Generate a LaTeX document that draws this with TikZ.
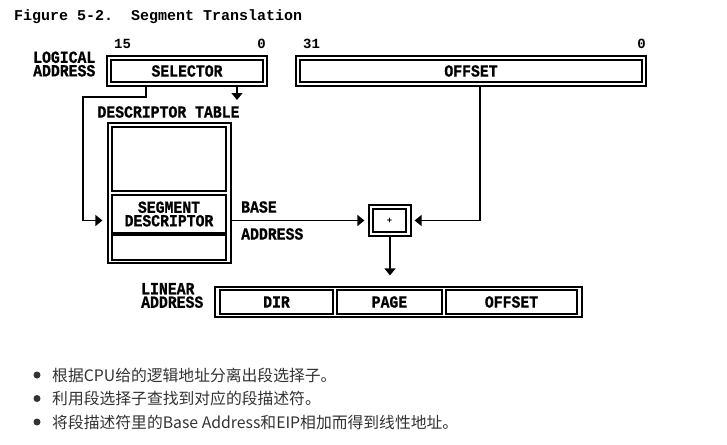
\documentclass[tikz,border=0pt]{standalone}
\usepackage{fontspec}
\usetikzlibrary{arrows.meta}
\newfontfamily\diagfont{Liberation Mono}[FakeStretch=0.87, FakeBold=0.8]
\newfontfamily\titlefont{Liberation Mono}
\newfontfamily\cjkfont{Noto Sans CJK SC}
\definecolor{txt}{HTML}{333333}
\begin{document}
\begin{tikzpicture}[x=1pt,y=-1pt,
 box/.style={draw, line width=1.2pt, inner sep=0pt},
 lbl/.style={font=\diagfont\bfseries\fontsize{17}{13.5}\selectfont, inner sep=0pt},
 num/.style={font=\titlefont\bfseries\fontsize{14}{14}\selectfont, inner sep=0pt},
 arr/.style={line width=1.5pt, -{Triangle[length=7pt,width=11pt]}},
 bul/.style={font=\cjkfont\fontsize{15.8}{18}\selectfont, text=txt, anchor=west, inner sep=0pt},
 dot/.style={circle, fill=txt, minimum size=7pt, inner sep=0pt}
]
\fill[white] (0,0) rectangle (727,444);
\useasboundingbox (0,0) rectangle (727,444);

\node[font=\titlefont\bfseries\fontsize{15}{15}\selectfont, anchor=west, inner sep=0pt] (title) at (14,17) {Figure 5-2.\ \ Segment Translation};

\node[num, anchor=west] (n15) at (114,44) {15};
\node[num, anchor=east] (n0a) at (266,44) {0};
\node[num, anchor=west] (n31) at (303,44) {31};
\node[num, anchor=east] (n0b) at (646,44) {0};

\node[lbl, align=left, anchor=west] (logical) at (33,64) {LOGICAL\\ADDRESS};
\node[box, minimum width=160pt, minimum height=30pt] (selO) at (187,71) {};
\node[box, lbl, minimum width=152pt, minimum height=22pt] (selI) at (187,71) {SELECTOR};

\node[box, minimum width=350pt, minimum height=30pt] (offO) at (471,71) {};
\node[box, lbl, minimum width=342pt, minimum height=22pt] (offI) at (471,71) {OFFSET};

\node[lbl] (dtl) at (168.5,112) {DESCRIPTOR TABLE};
\node[box, minimum width=123pt, minimum height=140pt] (tblO) at (169.5,193) {};
\node[box, minimum width=114pt, minimum height=64pt] (upC) at (169,159) {};
\node[box, lbl, align=center, minimum width=114pt, minimum height=38pt] (segC) at (169,214) {SEGMENT\\DESCRIPTOR};
\node[box, minimum width=114pt, minimum height=25pt] (botC) at (169,247.5) {};

\node[box, minimum width=42pt, minimum height=31pt] (plusO) at (390,220.5) {};
\node[box, minimum width=33pt, minimum height=23pt, font=\titlefont\bfseries\fontsize{9}{9}\selectfont] (plusI) at (389.5,220.5) {+};

\node[lbl, anchor=west] (base) at (241,207) {BASE};
\node[lbl, anchor=west] (baddr) at (241,234) {ADDRESS};

\node[lbl, align=left, anchor=west] (linear) at (141,295.5) {LINEAR\\ADDRESS};
\node[box, minimum width=367pt, minimum height=30pt] (linO) at (398.5,302) {};
\node[box, lbl, minimum width=113pt, minimum height=24pt] (dir) at (276.5,302) {DIR};
\node[box, lbl, minimum width=105pt, minimum height=24pt] (page) at (389.5,302) {PAGE};
\node[box, lbl, minimum width=131pt, minimum height=24pt] (loff) at (511.5,302) {OFFSET};

\coordinate (selTurn) at (146,97);
\coordinate (leftTurn) at (83,97);
\draw[arr, shorten >=5pt] (selO.south -| selTurn) -- (selTurn) -- (leftTurn) |- (tblO.west |- plusO.center);
\coordinate (selDrop) at (237,100);
\draw[arr] (selO.south -| selDrop) -- (selDrop);
\draw[arr, shorten >=4pt] (plusO.center -| tblO.east) -- (plusO.west);
\coordinate (offTurn) at (480,220.5);
\draw[arr, shorten >=3pt] (offO.south -| offTurn) -- (offTurn) -- (plusO.east);
\draw[arr, shorten >=11pt] (plusO.south) -- (plusO.south |- linO.north);

\node[dot] (b1) at (37,375) {};
\node[dot] (b2) at (37,398.5) {};
\node[dot] (b3) at (37,422) {};
\node[bul] (t1) at (52,375) {根据CPU给的逻辑地址分离出段选择子。};
\node[bul] (t2) at (52,398.5) {利用段选择子查找到对应的段描述符。};
\node[bul] (t3) at (52,422) {将段描述符里的Base Address和EIP相加而得到线性地址。};
\end{tikzpicture}
\end{document}
